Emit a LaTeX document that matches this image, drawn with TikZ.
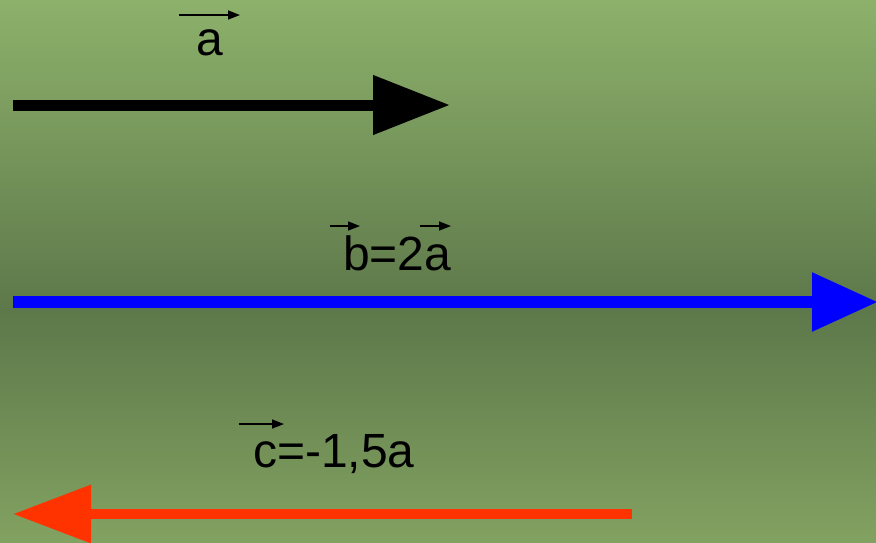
\documentclass[tikz,border=0pt]{standalone}
\usepackage{fontspec}
\setmainfont{Liberation Sans}
\usetikzlibrary{arrows.meta}
\definecolor{bgtop}{RGB}{141,177,107}
\definecolor{bgmid}{RGB}{93,120,74}
\definecolor{bgbot}{RGB}{130,162,97}
\definecolor{vred}{RGB}{255,51,0}
\tikzset{
  label/.style={anchor=base west,inner sep=0pt,font=\fontsize{48}{50}\selectfont},
  overarrow/.style={line width=1.6pt,-{Triangle[length=12pt,width=9pt]}}
}
\begin{document}
\begin{tikzpicture}[x=1pt,y=-1pt]
\useasboundingbox (0,0) rectangle (876,542);
% background, darkest around the blue arrow
\shade[top color=bgtop,bottom color=bgmid] (0,0) rectangle (876,310);
\shade[top color=bgmid,bottom color=bgbot] (0,310) rectangle (876,542);
% vector a
\coordinate (a0) at (13,105);
\coordinate (a1) at (450,105);
\draw[line width=11pt,-{Triangle[length=77pt,width=57pt]}] (a0) -- (a1);
\node[label] (la) at (196,55) {a};
\draw[overarrow] (179,15) -- (240,15);
% vector b
\coordinate (b0) at (13,302);
\coordinate (b1) at (878,302);
\draw[blue,line width=12pt,-{Triangle[length=66pt,width=56pt]}] (b0) -- (b1);
\node[label] (lb) at (343,270) {b=2a};
\draw[overarrow] (330,226) -- (360,226);
\draw[overarrow] (420,226) -- (451,226);
% vector c
\coordinate (c0) at (632,514);
\coordinate (c1) at (13,514);
\draw[vred,line width=10pt,-{Triangle[length=78pt,width=56pt]}] (c0) -- (c1);
\node[label] (lc) at (253,467) {c=-1,5a};
\draw[overarrow] (239,424) -- (284,424);
\end{tikzpicture}
\end{document}
